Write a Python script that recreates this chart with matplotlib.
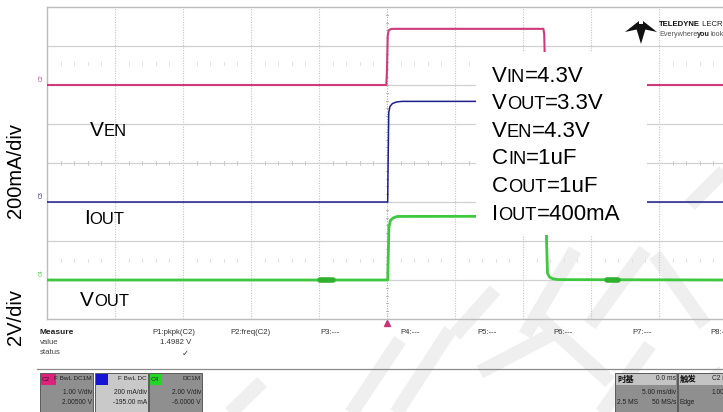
import numpy as np
import matplotlib
matplotlib.use("Agg")
import matplotlib.pyplot as plt
from matplotlib.patches import Rectangle, Polygon
from matplotlib.lines import Line2D
from matplotlib.offsetbox import TextArea, HPacker, AnnotationBbox

W, H, DPI = 723, 412, 100

# ---------------- data ----------------
ms_per_div = 5.0
# C2 : V_EN   (1 V/div)
ven_t = [-25.0, -0.05, 0.0, 0.05, 0.12, 0.25, 0.45, 11.50, 11.56, 11.62, 11.70, 25.0]
ven_v = [0.0, 0.0, 0.4, 1.25, 1.40, 1.43, 1.44, 1.44, 1.30, 0.40, 0.0, 0.0]
# C3 : I_OUT  (200 mA/div)
iout_t = [-25.0, 0.05, 0.09, 0.13, 0.22, 0.40, 0.70, 1.10, 11.55, 11.62, 11.70, 25.0]
iout_v = [0.0, 0.0, 250.0, 460.0, 490.0, 505.0, 513.0, 516.0, 516.0, 250.0, 0.0, 0.0]
# C4 : V_OUT  (2 V/div)
vout_t = [-25.0, 0.05, 0.09, 0.14, 0.25, 0.45, 0.75, 11.70, 11.74, 11.80, 11.95, 12.20, 12.60, 25.0]
vout_v = [0.0, 0.0, 1.2, 2.7, 3.05, 3.18, 3.26, 3.27, 1.80, 0.35, 0.15, 0.06, 0.02, 0.0]
# short noise bursts on V_OUT baseline (ms)
vout_burst_start = [-4.9, 16.2]
vout_burst_end = [-4.0, 17.0]

channels = ["C2", "C3", "C4"]
ch_scale = [1.0, 200.0, 2.0]          # units per division
ch_pos = [6.0, 3.0, 1.0]              # baseline position (div from bottom)
ch_color = ["#cf3a7c", "#1e1e8c", "#3ec83e"]

box_lines = [("V", "IN", "=4.3V"), ("V", "OUT", "=3.3V"), ("V", "EN", "=4.3V"),
             ("C", "IN", "=1uF"), ("C", "OUT", "=1uF"), ("I", "OUT", "=400mA")]

meas_labels = ["P1:pkpk(C2)", "P2:freq(C2)", "P3:---", "P4:---", "P5:---",
               "P6:---", "P7:---", "P8:--"]
meas_value = "1.4982 V"

ch_box_text = [("F BwL DC1M", "1.00 V/div", "2.00500 V"),
               ("F BwL DC", "200 mA/div", "-195.00 mA"),
               ("DC1M", "2.00 V/div", "-6.0000 V")]

# ---------------- helpers ----------------
SANS = ["Liberation Sans", "DejaVu Sans"]
NARROW = ["Liberation Sans", "DejaVu Sans"]
CJK = ["Noto Sans CJK SC", "DejaVu Sans"]


def fx(x):
    return x / W


def fy(y):
    return 1 - y / H


fig = plt.figure(figsize=(W / DPI, H / DPI), dpi=DPI)
fig.patch.set_facecolor("white")


def ptext(x, y, s, size=6.0, ha="left", va="center", family=NARROW, weight="normal",
          color="#222222", zorder=30, **kw):
    fig.text(fx(x), fy(y), s, fontsize=size, ha=ha, va=va, family=family,
             weight=weight, color=color, zorder=zorder, **kw)


def prect(x0, y0, x1, y1, fc, ec="none", lw=0.0, zorder=20):
    fig.add_artist(Rectangle((fx(x0), fy(y1)), fx(x1) - fx(x0), fy(y0) - fy(y1),
                             transform=fig.transFigure, facecolor=fc, edgecolor=ec,
                             linewidth=lw, zorder=zorder))


def packed(x, y, parts, zorder=40):
    kids = [TextArea(s, textprops=dict(fontsize=sz, family=fam, color=c, weight=wt))
            for s, sz, fam, c, wt in parts]
    pack = HPacker(children=kids, align="baseline", pad=0, sep=0)
    ab = AnnotationBbox(pack, (x, H - y), xycoords="figure pixels",
                        box_alignment=(0, 0.5), frameon=False, pad=0)
    ab.set_zorder(zorder)
    fig.add_artist(ab)


def smallcaps(x, y, big, small, rest, size=14.5, ratio=0.8):
    parts = [(big, size, SANS, "black", "normal"),
             (small, size * ratio, SANS, "black", "normal")]
    if rest:
        parts.append((rest, size, SANS, "black", "normal"))
    packed(x, y, parts)


# ---------------- watermark (faint strokes) ----------------
wm = [((455, 335), (495, 290)), ((525, 335), (575, 250)), ((590, 325), (645, 250)),
      ((655, 255), (705, 325)), ((690, 205), (730, 165)), ((395, 415), (450, 330)),
      ((480, 372), (560, 330)), ((540, 318), (610, 382)), ((600, 415), (650, 345)),
      ((228, 415), (262, 382)), ((350, 415), (400, 340)), ((660, 415), (723, 372))]
for (x0, y0), (x1, y1) in wm:
    fig.add_artist(Line2D([fx(x0), fx(x1)], [fy(y0), fy(y1)], transform=fig.transFigure,
                          color="#efefef", lw=10, solid_capstyle="butt", zorder=-5))

# ---------------- scope grid ----------------
ax = fig.add_axes([fx(47), fy(319), (727 - 47) / W, (319 - 7) / H])
ax.set_xlim(-5 * ms_per_div, 5 * ms_per_div)
ax.set_ylim(0, 8)
ax.patch.set_visible(False)
ax.set_xticks([])
ax.set_yticks([])
for side in ["left", "top", "bottom"]:
    ax.spines[side].set_color("#bcbcbc")
    ax.spines[side].set_linewidth(1.0)
ax.spines["right"].set_visible(False)

for k in range(1, 10):
    t = -25 + k * ms_per_div
    ax.axvline(t, color="#c4c4c4" if k != 5 else "#acacac", lw=0.8,
               ls=(0, (1, 1.3)), zorder=1)
for k in range(1, 8):
    ax.axhline(k, color="#d0d0d0", lw=0.9, zorder=1)

# centre-axis minor ticks and faint marker rows
for yy in np.arange(0.2, 8.0, 0.2):
    ax.plot([-0.1, 0.1], [yy, yy], color="#b0b0b0", lw=0.6, zorder=1)
for tt in np.arange(-24, 25, 1.0):
    if abs(tt) % 5 != 0:
        ax.plot([tt, tt], [3.95, 4.05], color="#c4c4c4", lw=0.6, zorder=1)
        for row in (6.55, 1.5):
            ax.plot([tt, tt], [row - 0.03, row + 0.03], color="#e2e2e2", lw=0.7, zorder=1)

# ---------------- traces ----------------
series = [(ven_t, ven_v, 1.5), (iout_t, iout_v, 1.1), (vout_t, vout_v, 2.0)]
for i, (tt, vv, lw) in enumerate(series):
    yy = ch_pos[i] + np.asarray(vv) / ch_scale[i]
    ax.plot(tt, yy, color=ch_color[i], lw=lw, zorder=3, solid_joinstyle="round")
    ax.text(-25.25, ch_pos[i] + 0.1, channels[i], rotation=90, fontsize=3.8,
            color=ch_color[i], ha="right", va="bottom", family=SANS, clip_on=False)
for s, e in zip(vout_burst_start, vout_burst_end):
    ax.plot([s, e], [ch_pos[2], ch_pos[2]], color="#2fb02f", lw=4.0, zorder=3,
            solid_capstyle="round")

# trigger marker
ax.plot([0], [-0.09], marker="^", color="#d0307a", markersize=4, clip_on=False, zorder=5)

# white annotation box
bx0, bx1 = (476 - 387) / 68 * ms_per_div, (647 - 387) / 68 * ms_per_div
by0, by1 = (319 - 235) / 39, (319 - 52) / 39
ax.add_patch(Rectangle((bx0, by0), bx1 - bx0, by1 - by0, facecolor="white",
                       edgecolor="none", zorder=10))

for i, (b, s, r) in enumerate(box_lines):
    smallcaps(492, 76 + i * 27.6, b, s, r, size=16.0, ratio=0.82)

smallcaps(90, 130, "V", "EN", "", size=15.0)
smallcaps(84, 218, "I", "OUT", "", size=15.0)
smallcaps(80, 300, "V", "OUT", "", size=15.0)

ptext(16, 171, "200mA/div", size=14.5, ha="center", family=SANS, rotation=90, color="black")
ptext(16, 317, "2V/div", size=14.5, ha="center", family=SANS, rotation=90, color="black")

# ---------------- logo ----------------
for poly in ([(625, 32), (639, 21), (639, 29)], [(657, 32), (643, 21), (643, 29)],
             [(635, 24), (641, 24), (641, 44)], [(641, 24), (647, 24), (641, 44)]):
    fig.add_artist(Polygon([(fx(a), fy(b)) for a, b in poly], closed=True,
                           transform=fig.transFigure, facecolor="#111111",
                           edgecolor="none", zorder=25))
packed(659, 25, [("TELEDYNE", 5.6, SANS, "#111111", "bold"),
                 (" LECROY", 5.6, SANS, "#222222", "normal")], zorder=25)
packed(659, 35, [("Everywhere", 5.2, SANS, "#555555", "normal"),
                 ("you", 5.2, SANS, "#222222", "bold"),
                 ("look", 5.2, SANS, "#555555", "normal")], zorder=25)

# ---------------- measurement panel ----------------
row_y = [333, 343, 353]
ptext(40, row_y[0], "Measure", weight="bold", size=6.0)
ptext(40, row_y[1], "value", size=5.6, color="#444444")
ptext(40, row_y[2], "status", size=5.6, color="#444444")
meas_x = [152, 230, 320, 400, 477, 553, 632, 710]
for lab, x in zip(meas_labels, meas_x):
    ptext(x, row_y[0], lab, size=5.6, color="#333333")
ptext(191, row_y[1], meas_value, size=5.6, ha="right", color="#333333")
ptext(185, row_y[2], "\u2713", size=6.0, ha="center", family=["DejaVu Sans"], color="#333333")

fig.add_artist(Line2D([fx(37), fx(723)], [fy(369), fy(369)], transform=fig.transFigure,
                      color="#8a8a8a", lw=0.9, zorder=20))

# channel descriptor boxes
ch_box_x = [(40, 93), (95, 148), (149, 202)]
ch_box_fc = ["#8f8f8f", "#c9c9c9", "#8f8f8f"]
tag_fc = ["#e0207c", "#1414d2", "#22d822"]
tag_w = [15, 12, 12]
for i in range(3):
    x0, x1 = ch_box_x[i]
    prect(x0, 373, x1, 414, ch_box_fc[i], ec="#5a5a5a", lw=0.7)
    prect(x0 + 1, 374, x0 + 1 + tag_w[i], 385, tag_fc[i], zorder=21)
    if i != 1:
        ptext(x0 + 2, 379.5, channels[i], size=4.6, color="#222222")
    t1, t2, t3 = ch_box_text[i]
    ptext(x1 - 1, 379, t1, size=4.6, ha="right")
    ptext(x1 - 1, 392, t2, size=4.8, ha="right")
    ptext(x1 - 1, 403, t3, size=4.8, ha="right")

# timebase box
prect(615, 373, 677, 414, "#8f8f8f", ec="#5a5a5a", lw=0.7)
prect(616, 374, 676, 385, "#c4c4c4", zorder=21)
ptext(617, 379, "时基", size=6.0, family=CJK, weight="bold", color="#111111")
ptext(676, 379, "0.0 ms", size=4.8, ha="right")
ptext(676, 392, "5.00 ms/div", size=4.8, ha="right")
ptext(617, 403, "2.5 MS", size=4.8)
ptext(676, 403, "50 MS/s", size=4.8, ha="right")

# trigger box
prect(678, 373, 740, 414, "#8f8f8f", ec="#5a5a5a", lw=0.7)
prect(679, 374, 739, 385, "#c4c4c4", zorder=21)
ptext(680, 379, "触发", size=6.0, family=CJK, weight="bold", color="#111111")
ptext(712, 379, "C2 D", size=4.8)
ptext(712, 392, "1.00", size=4.8)
ptext(680, 403, "Edge", size=4.8)

fig.savefig("out.png", dpi=DPI)
